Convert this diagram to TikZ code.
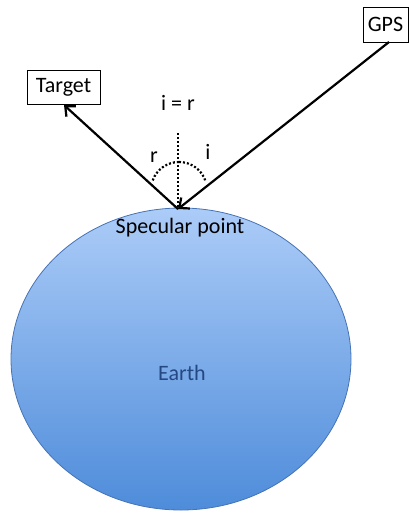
\documentclass[tikz,border=0pt]{standalone}
\usepackage{fontspec}
\setmainfont{Carlito}
\usetikzlibrary{arrows.meta}
\definecolor{earthtop}{RGB}{172,204,248}
\definecolor{earthbot}{RGB}{78,140,218}
\definecolor{earthline}{RGB}{70,115,180}
\definecolor{earthtext}{RGB}{36,72,130}
\tikzset{
  lbl/.style={font=\fontsize{22}{26}\selectfont, inner sep=0pt},
  boxnode/.style={draw=black, line width=0.9pt, font=\fontsize{22}{26}\selectfont, inner sep=0pt},
  ray/.style={line width=2.2pt, -{Straight Barb[length=8pt,width=14pt,line width=2.2pt]}},
  dotline/.style={line width=2.2pt, dash pattern=on 2pt off 2pt}
}
\begin{document}
\begin{tikzpicture}[x=1pt,y=-1pt]
\useasboundingbox (0,0) rectangle (409,516);
% Earth
\shade[top color=earthtop, bottom color=earthbot, draw=earthline, line width=0.8pt]
  (181,359) ellipse [x radius=170, y radius=151];
\node[lbl, text=earthtext] (earth) at (182,373) {Earth};
\coordinate (sp) at (178,209);
\node[lbl] (spl) at (180,228) {Specular point};
% boxes
\node[boxnode, minimum width=73pt, minimum height=34pt] (target) at (63.5,87) {Target};
\node[boxnode, minimum width=45pt, minimum height=35pt] (gps) at (385.5,24.5) {GPS};
% rays
\coordinate (gpsout) at (389,42);
\coordinate (tgtin) at (64,105);
\draw[ray] (gpsout) -- (sp);
\draw[ray] (sp) -- (tgtin);
% normal
\coordinate (ntop) at (178,133);
\draw[dotline] (ntop) -- (sp);
% arcs
\coordinate (ac) at (179,190);
\draw[dotline] ([shift={(-160:28)}]ac) arc[start angle=-160, end angle=-90, radius=28];
\draw[dotline] ([shift={(-90:28)}]ac) arc[start angle=-90, end angle=-18, radius=28];
% labels
\node[lbl] (ir) at (178,103) {i = r};
\node[lbl] (rl) at (154,157) {r};
\node[lbl] (il) at (208,152) {i};
\end{tikzpicture}
\end{document}
